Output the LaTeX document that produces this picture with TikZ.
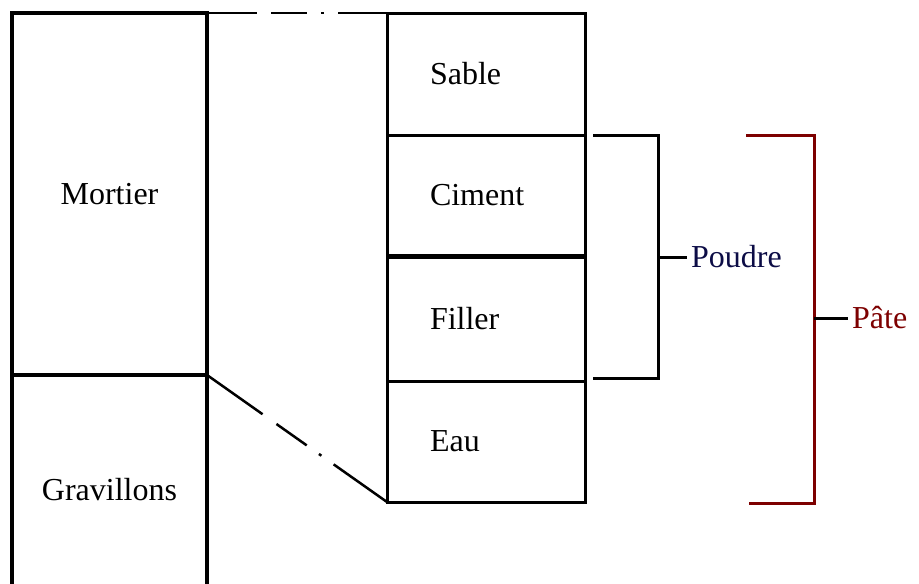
\documentclass[tikz,border=0pt]{standalone}
\usepackage{fontspec}
\setmainfont{Liberation Serif}
\usetikzlibrary{positioning}
\definecolor{poudreblue}{RGB}{12,12,70}
\definecolor{patered}{RGB}{125,0,0}
\tikzset{
  lcell/.style={draw=black, line width=3.5pt, minimum width=195pt, inner sep=0pt, outer sep=0pt, font=\fontsize{32}{36}\selectfont},
  rcell/.style={draw=black, line width=3pt, text width=112pt, inner xsep=43pt, inner ysep=0pt, outer sep=0pt, align=left, minimum height=122pt, font=\fontsize{32}{36}\selectfont},
  zoomline/.style={line width=2.5pt},
  bracket/.style={line width=3pt},
  label/.style={anchor=west, inner sep=4pt, font=\fontsize{32}{36}\selectfont}
}
\begin{document}
\begin{tikzpicture}[x=1pt, y=-1pt]
\useasboundingbox (0,0) rectangle (919,584);
% left column
\node[lcell, minimum height=362pt, anchor=north west] (mortier) at (12,13) {Mortier};
\node[lcell, minimum height=230pt, below=0pt of mortier] (gravillons) {Gravillons};
% right column
\node[rcell, anchor=north west] (sable) at (387,13) {Sable};
\node[rcell, minimum height=121pt, below=0pt of sable] (ciment) {Ciment};
\node[rcell, minimum height=125pt, below=0pt of ciment] (filler) {Filler};
\node[rcell, minimum height=121pt, below=0pt of filler] (eau) {Eau};
\draw[line width=5pt] (ciment.south west) -- (ciment.south east);
% zoom lines
\draw[zoomline, dash pattern=on 50pt off 14pt on 36pt off 14pt on 3pt off 14pt on 60pt] (mortier.north east) -- (sable.north west);
\draw[zoomline, dash pattern=on 68pt off 17pt on 37pt off 15pt on 3pt off 15pt on 80pt] (mortier.south east) -- (eau.south west);
% poudre
\coordinate (pd1) at (593,135);
\coordinate (pd2) at (593,378);
\node[label, text=poudreblue] (poudre) at (687,257) {Poudre};
\draw[bracket] (pd1) -- (658,135) -- (658,378) -- (pd2);
\draw[bracket] (658,257) -- (poudre.west);
% pate
\coordinate (pt1) at (746,135);
\coordinate (pt2) at (749,503);
\node[label, text=patered] (pate) at (848,318) {Pâte};
\draw[bracket, draw=patered] (pt1) -- (814,135) -- (814,503) -- (pt2);
\draw[bracket] (814,318) -- (pate.west);
\end{tikzpicture}
\end{document}
